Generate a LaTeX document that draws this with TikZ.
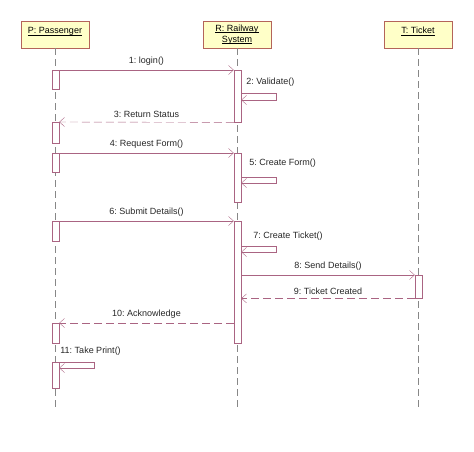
\documentclass[tikz,border=0pt]{standalone}
\usepackage{fontspec}
\setmainfont{Liberation Sans}
\usetikzlibrary{positioning}
\usetikzlibrary{arrows.meta}
\frenchspacing
\definecolor{boxline}{RGB}{180,100,90}
\definecolor{boxfill}{RGB}{255,255,200}
\definecolor{msgcol}{RGB}{170,100,130}
\definecolor{lifecol}{RGB}{135,135,135}
\newcommand{\objname}[1]{\underline{\smash{#1}}\strut}
\tikzstyle{obj} = [draw=boxline, fill=boxfill, minimum width=68pt, minimum height=27pt, inner sep=1pt, align=center, font=\fontsize{9}{11}\selectfont]
\tikzstyle{act} = [draw=msgcol, fill=white, minimum width=7pt, inner sep=0pt, anchor=north]
\tikzstyle{life} = [draw=lifecol, dash pattern=on 7pt off 4pt]
\tikzstyle{msg} = [draw=msgcol, -{Straight Barb[length=5pt,width=9pt]}]
\tikzstyle{ret} = [msg, dash pattern=on 8pt off 4pt]
\tikzstyle{lbl} = [font=\fontsize{9}{10.5}\selectfont, inner sep=1pt, text=black!85]

\begin{document}
\begin{tikzpicture}[x=1pt, y=-1pt]

	\useasboundingbox (0,0) rectangle (474,452);

	% objects
	\node[obj, text depth=10pt] (pass) at (55,34.5) {\objname{P: Passenger}};
	\node[obj] (rail) at (237,34.5) {\objname{R: Railway}\\\objname{System}};
	\node[obj, text depth=10pt] (tick) at (418,34.5) {\objname{T: Ticket}};

	% lifelines
	\coordinate (passend) at (55.5,407);
	\coordinate (railend) at (237.5,407);
	\coordinate (tickend) at (418.5,407);
	\path [life] (pass.south -| passend) -- (passend);
	\path [life] (rail.south -| railend) -- (railend);
	\path [life] (tick.south -| tickend) -- (tickend);

	% activations
	\node[act, minimum height=19pt] (pa1) at (55.5,70) {};
	\node[act, minimum height=21pt] (pa2) at (55.5,122) {};
	\node[act, minimum height=19pt] (pa3) at (55.5,153) {};
	\node[act, minimum height=20pt] (pa4) at (55.5,221) {};
	\node[act, minimum height=20pt] (pa5) at (55.5,323) {};
	\node[act, minimum height=26pt] (pa6) at (55.5,362) {};
	\node[act, minimum height=52pt] (ra1) at (237.5,70) {};
	\node[act, minimum height=49pt] (ra2) at (237.5,153) {};
	\node[act, minimum height=122pt] (ra3) at (237.5,221) {};
	\node[act, minimum height=23pt] (ta1) at (418.5,275) {};

	% messages
	\path [msg] (pa1.north east) -- node[lbl, above=3pt] {1: login()} (ra1.north west);
	\path [msg] ([yshift=-23pt]ra1.north east) -- ++(35,0) -- ++(0,7) -- ++(-35,0);
	\node[lbl, anchor=west] at ([xshift=4pt,yshift=-12pt]ra1.north east) {2: Validate()};
	\path [ret] (ra1.south west) -- node[lbl, above=3pt] {3: Return Status} (pa2.north east);
	\path [msg] (pa3.north east) -- node[lbl, above=3pt] {4: Request Form()} (ra2.north west);
	\path [msg] ([yshift=-24pt]ra2.north east) -- ++(35,0) -- ++(0,6) -- ++(-35,0);
	\node[lbl, anchor=west] at ([xshift=7pt,yshift=-10pt]ra2.north east) {5: Create Form()};
	\path [msg] (pa4.north east) -- node[lbl, above=3pt] {6: Submit Details()} (ra3.north west);
	\path [msg] ([yshift=-25pt]ra3.north east) -- ++(35,0) -- ++(0,6) -- ++(-35,0);
	\node[lbl, anchor=west] at ([xshift=11pt,yshift=-15pt]ra3.north east) {7: Create Ticket()};
	\path [msg] (ra3.east |- ta1.north) -- node[lbl, above=3pt] {8: Send Details()} (ta1.north west);
	\path [ret] (ta1.south west) -- node[lbl, above=3pt] {9: Ticket Created} (ra3.east |- ta1.south);
	\path [ret] (ra3.west |- pa5.north) -- node[lbl, above=3pt] {10: Acknowledge} (pa5.north east);
	\path [msg] (pa6.north east) -- ++(35,0) -- ++(0,6) -- ++(-35,0);
	\node[lbl, anchor=west] at ([yshift=11pt]pa6.north east) {11: Take Print()};

\end{tikzpicture}
\end{document}
